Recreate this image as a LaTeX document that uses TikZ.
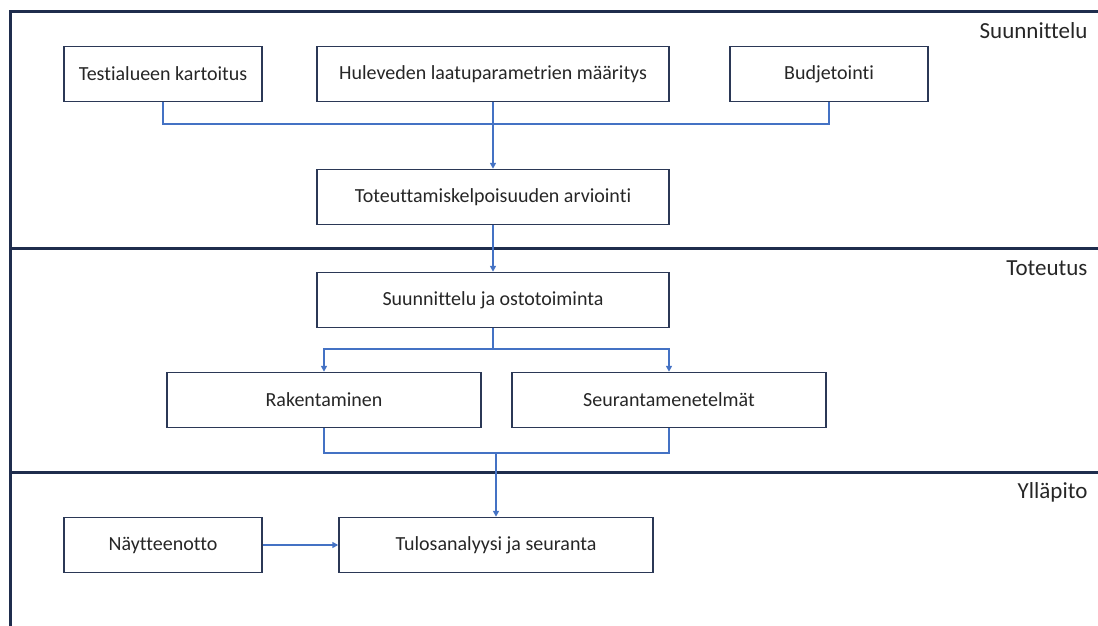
\documentclass[tikz,border=0pt]{standalone}
\usepackage{fontspec}
\setmainfont{Carlito}[Ligatures={NoCommon}]
\usetikzlibrary{arrows.meta}

\definecolor{kehysvari}{HTML}{1F2D4D}
\definecolor{laatikkovari}{HTML}{2B3856}
\definecolor{viivavari}{HTML}{4472C4}
\definecolor{tekstivari}{HTML}{262626}

\tikzset{
  vaihe/.style={draw=laatikkovari, line width=1.5pt, minimum height=55pt, inner sep=0pt,
    text=tekstivari, font=\fontsize{20}{24}\selectfont},
  kehys/.style={draw=kehysvari, line width=3pt},
  yhteys/.style={draw=viivavari, line width=2.2pt},
  nuoli/.style={yhteys, -{Triangle[length=6pt,width=6pt]}},
  otsikko/.style={anchor=base east, text=tekstivari, font=\fontsize{23}{28}\selectfont}
}

\begin{document}
\begin{tikzpicture}[x=1pt,y=-1pt]
\useasboundingbox (0,0) rectangle (1098,626);

% kehys ja vaiheiden rajat
\draw[kehys] (1098,12) -- (10,12) -- (10,626);
\draw[kehys] (10,248) -- (1098,248);
\draw[kehys] (10,472) -- (1098,472);

\node[otsikko] (suun) at (1091,39) {Suunnittelu};
\node[otsikko] (tot) at (1091,275) {Toteutus};
\node[otsikko] (yll) at (1091,498) {Ylläpito};

% Suunnittelu
\node[vaihe, minimum width=198pt] (kart) at (163,74) {Testialueen kartoitus};
\node[vaihe, minimum width=352pt] (laatu) at (493,74) {Huleveden laatuparametrien määritys};
\node[vaihe, minimum width=198pt] (budj) at (829,74) {Budjetointi};
\node[vaihe, minimum width=352pt] (arv) at (493,197) {Toteuttamiskelpoisuuden arviointi};

\coordinate (kokoa) at (493,124);
\draw[yhteys] (kart.south) |- (kokoa) -| (budj.south);
\draw[nuoli] (laatu.south) -- (arv.north);

% Toteutus
\node[vaihe, minimum width=352pt] (hank) at (493,300) {Suunnittelu ja ostotoiminta};
\node[vaihe, minimum width=314pt] (rak) at (324,400) {Rakentaminen};
\node[vaihe, minimum width=314pt] (seur) at (669,400) {Seurantamenetelmät};

\draw[nuoli] (arv.south) -- (hank.north);
\coordinate (haara) at (493,349);
\draw[yhteys] (hank.south) -- (haara);
\draw[nuoli] (haara) -| (rak.north);
\draw[nuoli] (haara) -| (seur.north);

% Ylläpito
\node[vaihe, minimum width=198pt] (nayt) at (163,545) {Näytteenotto};
\node[vaihe, minimum width=314pt] (tul) at (496,545) {Tulosanalyysi ja seuranta};

\coordinate (yhd) at (496,453);
\draw[yhteys] (rak.south) |- (yhd) -| (seur.south);
\draw[nuoli] (yhd) -- (tul.north);
\draw[nuoli] (nayt.east) -- (tul.west);

\end{tikzpicture}
\end{document}
